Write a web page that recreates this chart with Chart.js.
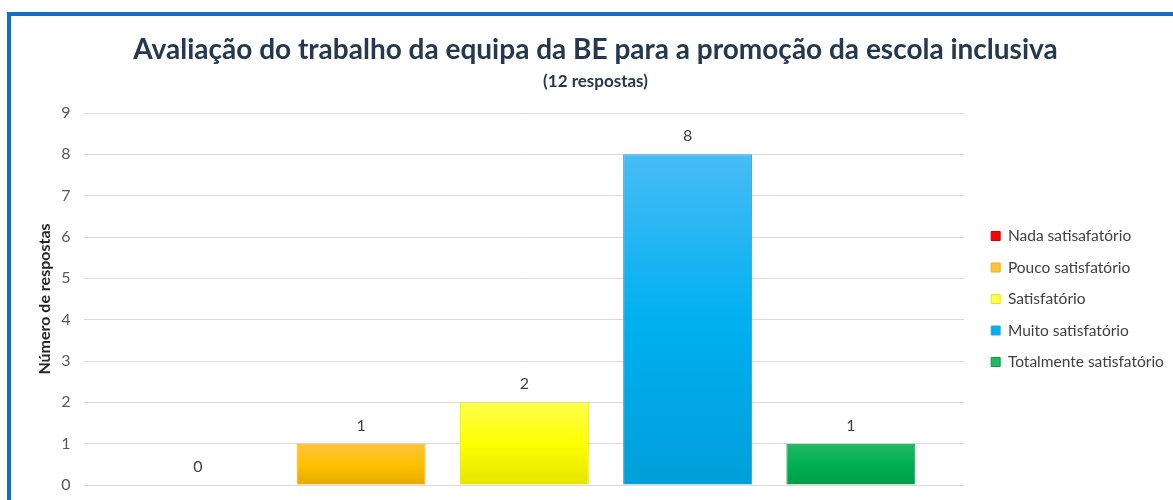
<!DOCTYPE html>
<html>
<head>
<meta charset="utf-8">
<script src="https://cdn.jsdelivr.net/npm/chart.js@4"></script>
<style>
  html, body { margin: 0; padding: 0; background: #fff; overflow: hidden; width: 1173px; height: 500px; }
  #frame {
    position: absolute; left: 7px; top: 12px;
    width: 1180px; height: 520px;
    border: 4px solid #1170c4;
    background: #fff;
  }
  #wrap { position: absolute; left: 0; top: 0; width: 1170px; height: 500px; }
</style>
</head>
<body>
<div id="frame">
  <div id="wrap"><canvas id="chart"></canvas></div>
</div>
<script>
var categorias = ["Nada satisafatório", "Pouco satisfatório", "Satisfatório", "Muito satisfatório", "Totalmente satisfatório"];
var respostas = [0, 1, 2, 8, 1];
var yMax = 9;

// top / middle / bottom shades for each bar
var cores = [
  ["#ff3b3b", "#ff0000", "#e00000"],
  ["#ffc23f", "#ffc000", "#e4ab00"],
  ["#ffff4d", "#ffff00", "#e4e400"],
  ["#48bcf6", "#00b0f0", "#009fd9"],
  ["#24b964", "#00b050", "#009e48"]
];
var bordas = ["#d00000", "#efb300", "#e6e600", "#2fa6e2", "#069b47"];

var FONT = "Lato, 'Open Sans', sans-serif";

function gradiente(stops) {
  return function (c) {
    var ch = c.chart;
    if (!ch.chartArea || c.raw === undefined) return stops[1];
    var y = ch.scales.y;
    var top = y.getPixelForValue(c.raw);
    var bot = y.getPixelForValue(0);
    if (bot - top < 1) return stops[1];
    var g = ch.ctx.createLinearGradient(0, top, 0, bot);
    g.addColorStop(0, stops[0]);
    g.addColorStop(0.5, stops[1]);
    g.addColorStop(1, stops[2]);
    return g;
  };
}

var datasets = categorias.map(function (nome, i) {
  return {
    label: nome,
    data: [respostas[i]],
    backgroundColor: gradiente(cores[i]),
    borderColor: bordas[i],
    borderWidth: 1
  };
});

// value labels above each bar
var rotulos = {
  id: "rotulos",
  afterDatasetsDraw: function (chart) {
    var ctx = chart.ctx;
    ctx.save();
    ctx.font = "16px " + FONT;
    ctx.fillStyle = "#404040";
    ctx.textAlign = "center";
    ctx.textBaseline = "middle";
    chart.data.datasets.forEach(function (ds, i) {
      chart.getDatasetMeta(i).data.forEach(function (bar, j) {
        ctx.fillText(ds.data[j], bar.x, bar.y - 18);
      });
    });
    ctx.restore();
  }
};

new Chart(document.getElementById("chart"), {
  type: "bar",
  data: { labels: [""], datasets: datasets },
  plugins: [rotulos],
  options: {
    responsive: true,
    maintainAspectRatio: false,
    animation: false,
    layout: { padding: { left: 15, right: 16, top: 0, bottom: 31 } },
    datasets: { bar: { categoryPercentage: 0.928, barPercentage: 0.79 } },
    plugins: {
      tooltip: { enabled: false },
      title: {
        display: true,
        text: "Avaliação do trabalho da equipa da BE para a promoção da escola inclusiva",
        color: "#243850",
        font: { family: FONT, size: 28, weight: "bold" },
        padding: { top: 17, bottom: 0 }
      },
      subtitle: {
        display: true,
        text: "(12 respostas)",
        color: "#243850",
        font: { family: FONT, size: 17, weight: "bold" },
        padding: { top: 5, bottom: 21 }
      },
      legend: {
        position: "right",
        fullSize: false,
        labels: {
          boxWidth: 9,
          boxHeight: 9,
          padding: 16,
          color: "#404040",
          font: { family: FONT, size: 15.5 }
        }
      }
    },
    scales: {
      x: { display: false },
      y: {
        min: 0,
        max: yMax,
        ticks: { stepSize: 1, color: "#595959", padding: 14, font: { family: FONT, size: 16 } },
        grid: { color: "#d9d9d9", drawTicks: false },
        border: { display: false },
        title: {
          display: true,
          text: "Número de respostas",
          color: "#262626",
          font: { family: FONT, size: 16, weight: "bold" },
          padding: { top: 9, bottom: -7 }
        }
      },
      gap: {
        position: "right",
        display: true,
        grid: { display: false },
        ticks: { display: false },
        border: { display: false },
        afterFit: function (s) { s.width = 11; }
      }
    }
  }
});
</script>
</body>
</html>
